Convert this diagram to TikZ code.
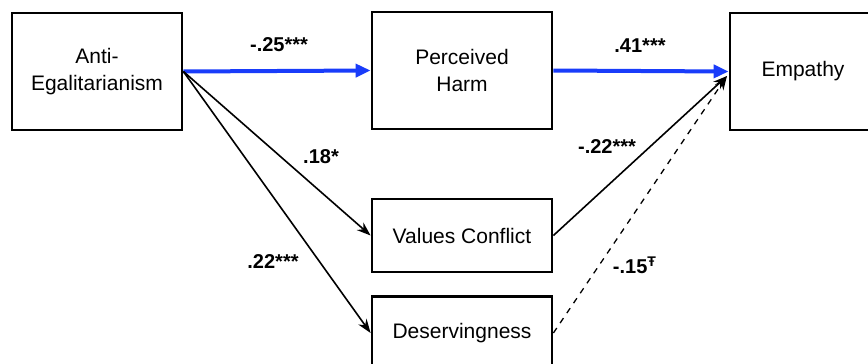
\documentclass[tikz,border=0pt]{standalone}
\usepackage{fontspec}
\setmainfont{Liberation Sans}
\usetikzlibrary{arrows.meta}

\definecolor{pathblue}{RGB}{25,60,250}

\tikzset{
  var/.style={draw,line width=1.4pt,align=center,inner sep=2pt,
    font=\fontsize{10.5}{13.5}\selectfont},
  coef/.style={font=\fontsize{10}{12}\selectfont\bfseries,inner sep=1pt},
  bluepath/.style={draw=pathblue,line width=2pt,-{Triangle[length=7.5pt,width=6.5pt]}},
  blackpath/.style={line width=0.8pt,-{Stealth[length=7pt,width=5pt]}},
}

\begin{document}
\begin{tikzpicture}[x=0.5pt,y=-0.5pt]
\useasboundingbox (0,0) rectangle (868,364);

% Variables of the model.
\node[var,minimum width=85pt,minimum height=58.5pt] (anti) at (97,71.5) {Anti-\\Egalitarianism};
\node[var,minimum width=90pt,minimum height=58.5pt] (harm) at (462,70.5) {Perceived\\Harm};
\node[var,minimum width=73pt,minimum height=58.5pt] (emp) at (803,71.5) {Empathy};
\node[var,minimum width=90pt,minimum height=36.5pt] (values) at (462,235.5) {Values Conflict};
\node[var,minimum width=90pt,minimum height=36.5pt] (deserv) at (462,333) {Deservingness};

\coordinate (empin) at (727,76);

% Paths, blue for the significant indirect route.
\draw[bluepath] (anti.east) -- (harm.west);
\draw[bluepath] (harm.east) -- (emp.west);
\draw[blackpath] (anti.east) -- (values.west);
\draw[blackpath] (anti.east) -- (deserv.west);
\draw[blackpath] (values.east) -- (empin);
\draw[blackpath,dashed,line width=0.65pt] (deserv.east) -- (empin);

% Path coefficients.
\node[coef] (bAH) at (279,45) {-.25***};
\node[coef] (bHE) at (640,46) {.41***};
\node[coef] (bAV) at (321,157) {.18*};
\node[coef] (bAD) at (273,262) {.22***};
\node[coef] (bVE) at (607,147) {-.22***};
\node[coef] (bDE) at (635,265) {-.15\textsuperscript{Ŧ}};
\end{tikzpicture}
\end{document}
